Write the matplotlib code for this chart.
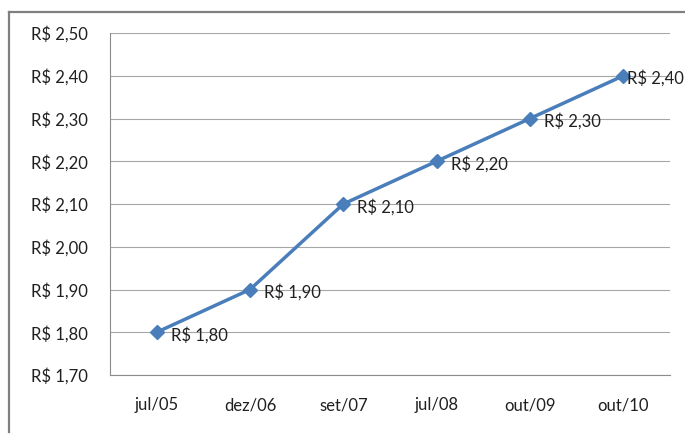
import matplotlib
matplotlib.use("Agg")
import matplotlib.pyplot as plt
from matplotlib.lines import Line2D

# data
periodos = ['jul/05', 'dez/06', 'set/07', 'jul/08', 'out/09', 'out/10']
valores = [1.80, 1.90, 2.10, 2.20, 2.30, 2.40]
y_ticks = [1.70, 1.80, 1.90, 2.00, 2.10, 2.20, 2.30, 2.40, 2.50]


def brl(v):
    return 'R$ ' + f'{v:.2f}'.replace('.', ',')


plt.rcParams['font.family'] = ['Lato', 'DejaVu Sans']
fs = 12

fig = plt.figure(figsize=(6.85, 4.34), dpi=100)
ax = fig.add_axes([110 / 685, 59 / 434, 560 / 685, 342 / 434])

x = list(range(len(periodos)))
azul = '#4A7EBB'
ax.plot(x, valores, color=azul, linewidth=2.5, marker='D', markersize=7.5,
        markerfacecolor=azul, markeredgecolor=azul, zorder=3)

# data labels to the right of each point
for i, v in enumerate(valores):
    dx = 3 if i == len(valores) - 1 else 10
    ax.annotate(brl(v), (i, v), xytext=(dx, -2), textcoords='offset points',
                ha='left', va='center', fontsize=fs, color='#202020', zorder=4)

ax.set_xlim(-0.5, len(periodos) - 0.5)
ax.set_ylim(1.70, 2.50)
ax.set_yticks(y_ticks)
ax.set_yticklabels([brl(t) for t in y_ticks])
ax.set_xticks(x)
ax.set_xticklabels(periodos)

ax.tick_params(axis='y', length=0, pad=16, labelsize=fs, labelcolor='#202020')
ax.tick_params(axis='x', length=0, pad=16, labelsize=fs, labelcolor='#202020')

ax.grid(axis='y', color='#A6A6A6', linewidth=0.8)
ax.set_axisbelow(True)
for s in ['top', 'right']:
    ax.spines[s].set_visible(False)
for s in ['left', 'bottom']:
    ax.spines[s].set_color('#8C8C8C')
    ax.spines[s].set_linewidth(0.8)

# outer chart border (only top and left visible in the reference)
fig.add_artist(Line2D([9 / 685, 9 / 685], [2 / 434, 422 / 434],
                      transform=fig.transFigure, color='#808080', linewidth=1.6))
fig.add_artist(Line2D([9 / 685, 1.0], [422 / 434, 422 / 434],
                      transform=fig.transFigure, color='#808080', linewidth=1.6))

fig.savefig('out.png', dpi=100)
